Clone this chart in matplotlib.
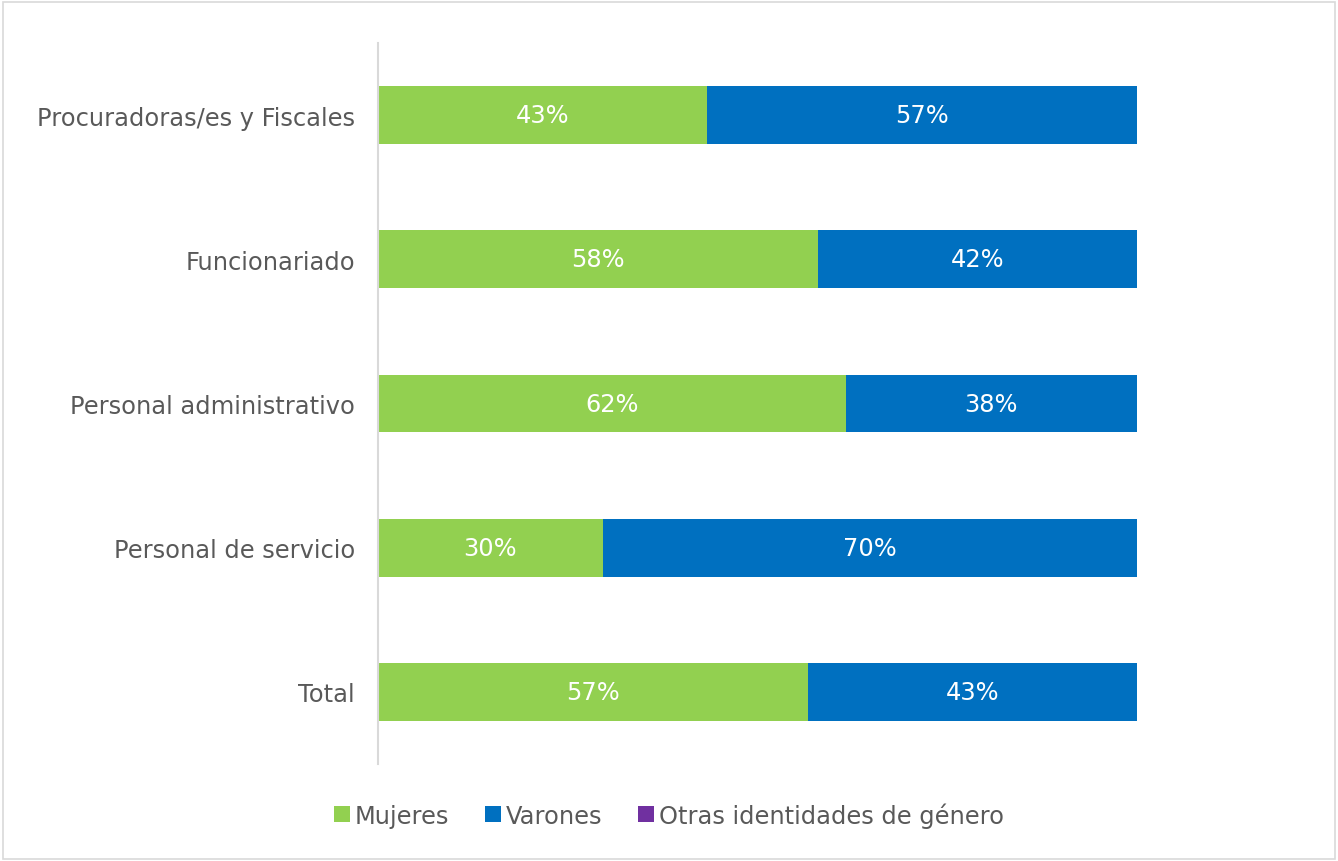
import matplotlib.pyplot as plt
from matplotlib.patches import Rectangle

# Data (percentages)
categories = ['Procuradoras/es y Fiscales', 'Funcionariado', 'Personal administrativo',
              'Personal de servicio', 'Total']
mujeres = [43.4, 58.0, 61.6, 29.6, 56.6]
varones = [56.6, 42.0, 38.4, 70.4, 43.4]
otras = [0.0, 0.0, 0.0, 0.0, 0.0]
series_names = ['Mujeres', 'Varones', 'Otras identidades de género']

green = '#92D050'
blue = '#0070C0'
purple = '#7030A0'
text_gray = '#595959'

plt.rcParams['font.family'] = 'DejaVu Sans'
fs = 17.4

fig = plt.figure(figsize=(13.38, 8.62), dpi=100)
ax = fig.add_axes([378 / 1338, 1 - 765 / 862, (1137 - 378) / 1338, (765 - 44) / 862])

y = list(range(len(categories)))
h = 0.40
b1 = ax.barh(y, mujeres, height=h, color=green, label=series_names[0])
b2 = ax.barh(y, varones, left=mujeres, height=h, color=blue, label=series_names[1])
lefts = [m + v for m, v in zip(mujeres, varones)]
b3 = ax.barh(y, otras, left=lefts, height=h, color=purple, label=series_names[2])

for bars in (b1, b2):
    for r in bars:
        w = r.get_width()
        if w > 0:
            ax.text(r.get_x() + w / 2, r.get_y() + r.get_height() / 2,
                    '{:.0f}%'.format(w), ha='center', va='center',
                    color='white', fontsize=fs)

ax.set_xlim(0, 100)
ax.set_ylim(len(categories) - 0.5, -0.5)
ax.set_yticks(y)
ax.set_yticklabels(categories, fontsize=fs, color=text_gray)
ax.tick_params(axis='y', length=0, pad=16.5)
ax.set_xticks([])
for s in ['top', 'right', 'bottom']:
    ax.spines[s].set_visible(False)
ax.spines['left'].set_color('#D9D9D9')
ax.spines['left'].set_linewidth(1.5)

leg = fig.legend(handles=[b1, b2, b3], labels=series_names, loc='center',
                 bbox_to_anchor=(0.5, 1 - 816 / 862), ncol=3, frameon=False,
                 fontsize=fs, handlelength=0.65, handleheight=0.65,
                 handletextpad=0.2, columnspacing=1.5)
for t in leg.get_texts():
    t.set_color(text_gray)

fig.patches.append(Rectangle((0.002, 0.002), 0.996, 0.994, transform=fig.transFigure,
                             fill=False, edgecolor='#D9D9D9', linewidth=1.2))

fig.savefig('out.png', dpi=100)
